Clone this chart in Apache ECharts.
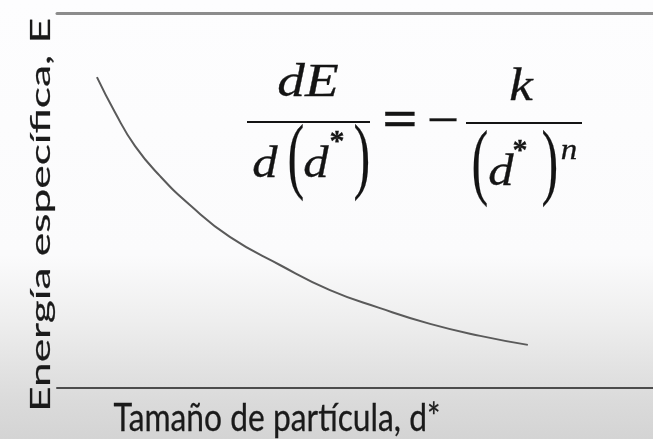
<!DOCTYPE html>
<html>
<head>
<meta charset="utf-8">
<script src="https://cdn.jsdelivr.net/npm/echarts@6/dist/echarts.min.js"></script>
<style>
  html, body { margin: 0; padding: 0; }
  #chart {
    width: 653px; height: 439px;
    background: linear-gradient(to bottom, #fdfdfe 0%, #fbfbfc 58%, #eeeeee 73%, #e0e0e0 86%, #dadada 92%, #d4d4d4 100%);
  }
</style>
</head>
<body>
<div id="chart"></div>
<script>
// Particle size (d*) and specific energy (E), arbitrary units 0-100
const particleSize = [6.7, 9.7, 13.1, 17.3, 22.3, 29.0, 37.4, 45.8, 54.2, 62.6, 71.0, 79.0];
const specificEnergy = [82.9, 73.6, 64.5, 56.5, 48.8, 40.3, 32.8, 26.1, 21.3, 17.1, 13.9, 11.5];

const xTitle = 'Tamaño de partícula, d*';
const yTitle = 'Energía específica, E';

const chart = echarts.init(document.getElementById('chart'), null, { renderer: 'canvas' });

// measure a string so the axis titles can be stretched to their span
function textWidth(str, font) {
  const c = document.createElement('canvas').getContext('2d');
  c.font = font;
  return c.measureText(str).width;
}
const titleFont = 'Lato';
const xTitleSize = 27;
const yTitleSize = 26;
const xTitleScaleX = 327 / textWidth(xTitle, xTitleSize + 'px ' + titleFont);
const yTitleScaleX = 394 / textWidth(yTitle, yTitleSize + 'px ' + titleFont);

const serif = 'Liberation Serif';
const ink = '#141414';

function eqText(str, x, y, size, opts) {
  opts = opts || {};
  return {
    type: 'text', x: x, y: y, z: 10,
    scaleX: opts.sx || 1, scaleY: opts.sy || 1,
    style: {
      text: str, fill: ink,
      stroke: ink, lineWidth: opts.stroke == null ? 0.3 : opts.stroke,
      fontFamily: serif, fontSize: size,
      fontStyle: opts.upright ? 'normal' : 'italic',
      fontWeight: opts.bold ? 'bold' : 'normal',
      align: 'center', verticalAlign: 'middle'
    }
  };
}
function bar(x1, x2, y, w) {
  return { type: 'line', z: 10, shape: { x1: x1, y1: y, x2: x2, y2: y }, style: { stroke: ink, lineWidth: w } };
}

const option = {
  backgroundColor: 'transparent',
  animation: false,
  grid: { left: 57, right: 0, top: 13, bottom: 51, outerBoundsMode: 'none' },
  xAxis: [
    {
      type: 'value', min: 0, max: 100, position: 'bottom',
      axisLine: { show: true, onZero: false, lineStyle: { color: '#4c4c4c', width: 2 } },
      axisTick: { show: false }, axisLabel: { show: false }, splitLine: { show: false }
    },
    {
      type: 'value', min: 0, max: 100, position: 'top',
      axisLine: { show: true, onZero: false, lineStyle: { color: '#8c8c8c', width: 3 } },
      axisTick: { show: false }, axisLabel: { show: false }, splitLine: { show: false }
    }
  ],
  yAxis: {
    type: 'value', min: 0, max: 100,
    axisLine: { show: false }, axisTick: { show: false }, axisLabel: { show: false }, splitLine: { show: false }
  },
  series: [{
    type: 'line',
    data: particleSize.map((x, i) => [x, specificEnergy[i]]),
    smooth: true,
    showSymbol: false,
    lineStyle: { color: '#5a5a5a', width: 2 }
  }],
  graphic: [
    // axis titles
    {
      type: 'text', x: 277, y: 419, scaleX: xTitleScaleX, scaleY: 1.4,
      style: { text: xTitle, fill: '#1a1a1a', stroke: '#1a1a1a', lineWidth: 0.2,
               fontFamily: titleFont, fontSize: xTitleSize, align: 'center', verticalAlign: 'middle' }
    },
    {
      type: 'text', x: 42, y: 215, rotation: Math.PI / 2, scaleX: yTitleScaleX, scaleY: 1,
      style: { text: yTitle, fill: '#1a1a1a', stroke: '#1a1a1a', lineWidth: 0.2,
               fontFamily: titleFont, fontSize: yTitleSize, align: 'center', verticalAlign: 'middle' }
    },
    // dE / d(d*)
    eqText('dE', 308, 84, 46, { sx: 1.2 }),
    bar(247, 370, 122, 2),
    eqText('d', 265, 165, 44, { sx: 1.15 }),
    eqText('(', 296, 161, 84, { upright: true, sx: 0.6, stroke: 0.2 }),
    eqText('d', 316, 165, 44, { sx: 1.15 }),
    eqText('*', 337, 142, 30, { upright: true, bold: true }),
    eqText(')', 362, 161, 84, { upright: true, sx: 0.6, stroke: 0.2 }),
    // = -
    eqText('=', 400, 123, 52, { upright: true, bold: true, sx: 1.2 }),
    eqText('\u2212', 443, 123, 52, { upright: true, sx: 1.1 }),
    // k / (d*)^n
    eqText('k', 521, 88, 46, { sx: 1.15 }),
    bar(466, 582, 123, 2),
    eqText('(', 480, 167, 84, { upright: true, sx: 0.6, stroke: 0.2 }),
    eqText('d', 501, 173, 44, { sx: 1.15 }),
    eqText('*', 520, 151, 30, { upright: true, bold: true }),
    eqText(')', 550, 167, 84, { upright: true, sx: 0.6, stroke: 0.2 }),
    eqText('n', 569, 151, 30, { sx: 1.1 })
  ]
};

chart.setOption(option);
</script>
</body>
</html>
